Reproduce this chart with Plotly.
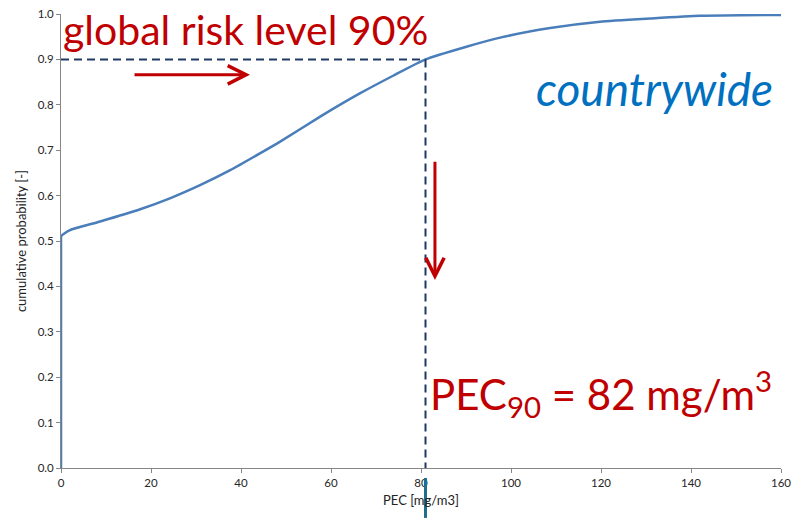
import plotly.graph_objects as go

# Data
pec = [0, 0, 0.5, 2, 8.7, 17.6, 24.2, 30.9, 37.6, 44.2, 48.7, 57.6, 66.4, 73.8, 81,
       90.1, 97.6, 108.7, 119.8, 130.9, 142, 160]
cum_prob = [0.0, 0.511, 0.515, 0.524, 0.543, 0.570, 0.594, 0.623, 0.656, 0.693, 0.719,
            0.774, 0.825, 0.864, 0.900, 0.928, 0.948, 0.969, 0.983, 0.990, 0.996, 0.998]
risk_level = 0.9
pec90 = 81
x_ticks = [0, 20, 40, 60, 80, 100, 120, 140, 160]
y_ticks = [0.0, 0.1, 0.2, 0.3, 0.4, 0.5, 0.6, 0.7, 0.8, 0.9, 1.0]

FONT = "Lato"
RED = "#C00000"
NAVY = "#1F3864"
CURVE = "#4A7EBB"

fig = go.Figure()
# vertical jump at PEC = 0
fig.add_trace(go.Scatter(x=pec[:2], y=cum_prob[:2], mode="lines", cliponaxis=False,
                         line=dict(color=CURVE, width=2.5),
                         hoverinfo="skip", showlegend=False))
# smooth part of the curve
fig.add_trace(go.Scatter(x=pec[1:], y=cum_prob[1:], mode="lines", cliponaxis=False,
                         line=dict(color=CURVE, width=2.5, shape="spline", smoothing=0.5),
                         hoverinfo="skip", showlegend=False))

# dashed guide lines
fig.add_trace(go.Scatter(x=[0, pec90], y=[risk_level, risk_level], mode="lines",
                         line=dict(color=NAVY, width=2, dash="8px,5px"), showlegend=False,
                         hoverinfo="skip"))
fig.add_shape(type="line", xref="x", yref="y", x0=pec90, x1=pec90, y0=risk_level, y1=0,
              line=dict(color=NAVY, width=2, dash="8px,5px"))
fig.add_shape(type="line", xref="x", yref="paper", x0=pec90, x1=pec90, y0=-0.022, y1=-0.11,
              line=dict(color="#1F6E8C", width=3))

# arrows
fig.add_annotation(x=42, y=0.866, ax=16, ay=0.866, xref="x", yref="y", axref="x", ayref="y",
                   text="", showarrow=True, arrowhead=5, arrowsize=1.2, arrowwidth=3, arrowcolor=RED)
fig.add_annotation(x=83.1, y=0.414, ax=83.1, ay=0.678, xref="x", yref="y", axref="x", ayref="y",
                   text="", showarrow=True, arrowhead=5, arrowsize=1.2, arrowwidth=3, arrowcolor=RED)

# texts
fig.add_annotation(x=0.0, y=0.966, xref="paper", yref="paper", xanchor="left", yanchor="middle",
                   text="global risk level 90%", showarrow=False,
                   font=dict(family=FONT, size=41, color=RED))
fig.add_annotation(x=0.992, y=0.835, xref="paper", yref="paper", xanchor="right", yanchor="middle",
                   text="<i>countrywide</i>", showarrow=False,
                   font=dict(family=FONT, size=46, color="#0070C0"))
fig.add_annotation(x=0.99, y=0.165, xref="paper", yref="paper", xanchor="right", yanchor="middle",
                   text="PEC<sub>90</sub> = 82 mg/m<sup>3</sup>", showarrow=False,
                   font=dict(family=FONT, size=42, color=RED))

axis_common = dict(showline=True, linecolor="#868686", linewidth=1, ticks="outside",
                   ticklen=4, tickcolor="#868686", showgrid=False, zeroline=False,
                   automargin=False, layer="below traces",
                   tickfont=dict(family=FONT, size=11.5, color="#262626"))

fig.update_layout(
    width=792, height=518,
    margin=dict(l=61, r=11, t=14, b=50),
    paper_bgcolor="white", plot_bgcolor="white",
    xaxis=dict(range=[0, 160], tickvals=x_ticks, ticktext=[str(v) for v in x_ticks],
               title=dict(text="PEC [mg/m3]", font=dict(family=FONT, size=13, color="#222222"),
                          standoff=8), **axis_common),
    yaxis=dict(range=[0, 1.0], tickvals=y_ticks, ticktext=[f"{v:.1f}" for v in y_ticks],
               title=dict(text="cumulative probability [-]",
                          font=dict(family=FONT, size=13, color="#222222"), standoff=8),
               **axis_common),
)

fig.write_html("out.html", config={"displayModeBar": False},
               post_script="document.body.style.margin='0px';document.body.style.overflow='hidden';")
